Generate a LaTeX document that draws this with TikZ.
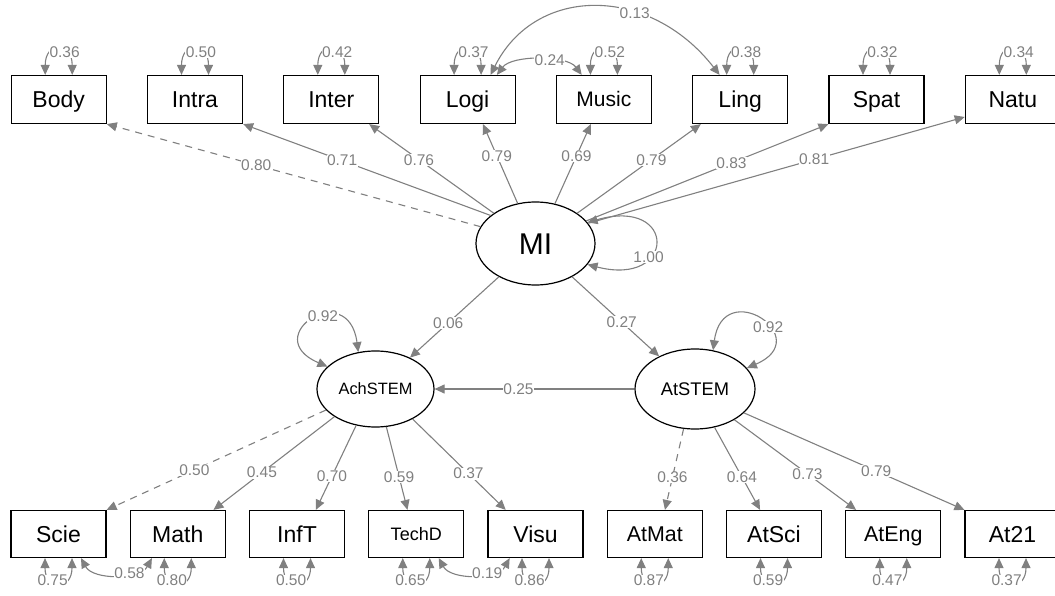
\documentclass[tikz,border=0pt]{standalone}
\usepackage{fontspec}
\setmainfont{Liberation Sans}
\usetikzlibrary{shapes.geometric,arrows.meta,calc}
\definecolor{lgray}{HTML}{808080}
\tikzset{
  obs/.style={draw=black, rectangle, minimum width=95pt, minimum height=48pt, inner sep=0pt, line width=1.2pt, font=\fontsize{23}{23}\selectfont, text height=16.5pt, text depth=0pt},
  obsb/.style={obs, minimum height=47pt},
  lat/.style={draw=black, ellipse, inner sep=0pt, line width=1.2pt, text depth=0pt},
  ptharr/.style={draw=lgray, line width=1.1pt, -{Triangle[length=10pt,width=9pt]}},
  cov/.style={draw=lgray, line width=1.1pt, {Triangle[length=10pt,width=9pt]}-{Triangle[length=10pt,width=9pt]}},
  lab/.style={fill=white, text=lgray, inner sep=0.5pt, font=\fontsize{15.5}{15.5}\selectfont, pos=0.6},
  dsh/.style={dash pattern=on 7pt off 6pt}
}
\begin{document}
\begin{tikzpicture}[x=1pt,y=-1pt]
\useasboundingbox (0,0) rectangle (1055,596);
\clip (0,0) rectangle (1055,596);
% latent
\node[lat, minimum width=119pt, minimum height=83pt, font=\fontsize{30}{30}\selectfont, text height=21.5pt] (MI) at (535.5,243.5) {MI};
\node[lat, minimum width=117pt, minimum height=76pt, font=\fontsize{16.4}{16.4}\selectfont, text height=11.8pt] (ach) at (375.5,389) {AchSTEM};
\node[lat, minimum width=120pt, minimum height=80pt, font=\fontsize{18.3}{18.3}\selectfont, text height=13.1pt] (ats) at (695,389) {AtSTEM};
% top observed
\node[obs] (body) at (58.7,99.5) {Body};
\node[obs] (intra) at (195,99.5) {Intra};
\node[obs] (inter) at (331.3,99.5) {Inter};
\node[obs] (logi) at (467.6,99.5) {Logi};
\node[obs, font=\fontsize{21}{21}\selectfont, text height=15pt] (music) at (603.9,99.5) {Music};
\node[obs] (ling) at (740.2,99.5) {Ling};
\node[obs] (spat) at (876.5,99.5) {Spat};
\node[obs] (natu) at (1012.8,99.5) {Natu};
% bottom observed
\node[obsb] (scie) at (58.5,534) {Scie};
\node[obsb] (math) at (177.75,534) {Math};
\node[obsb] (inft) at (297,534) {InfT};
\node[obsb, font=\fontsize{18}{18}\selectfont, text height=12.9pt] (techd) at (416.25,534) {TechD};
\node[obsb] (visu) at (535.5,534) {Visu};
\node[obsb, font=\fontsize{21.4}{21.4}\selectfont, text height=15.3pt] (atmat) at (654.75,534) {AtMat};
\node[obsb] (atsci) at (774,534) {AtSci};
\node[obsb, font=\fontsize{21.4}{21.4}\selectfont, text height=15.3pt] (ateng) at (893.25,534) {AtEng};
\node[obsb] (at21) at (1012.5,534) {At21};
% MI loadings
\draw[ptharr,dsh] (MI.163) -- node[lab]{0.80} (body.south east);
\draw[ptharr] (MI.148) -- node[lab]{0.71} (intra.south east);
\draw[ptharr] (MI.144) -- node[lab]{0.76} (inter.-33);
\draw[ptharr] (MI.114) -- node[lab]{0.79} (logi.-58);
\draw[ptharr] (MI.64) -- node[lab]{0.69} (music.-118);
\draw[ptharr] (MI.36) -- node[lab]{0.79} (ling.-148);
\draw[ptharr] (MI.24) -- node[lab]{0.83} (spat.south west);
\draw[ptharr] (MI.21) -- node[lab]{0.81} (natu.200);
% structural
\draw[ptharr] (MI) -- node[lab,pos=0.57]{0.06} (ach);
\draw[ptharr] (MI) -- node[lab,pos=0.57]{0.27} (ats);
\draw[ptharr] (ats) -- node[lab,pos=0.58]{0.25} (ach);
% AchSTEM loadings
\draw[ptharr,dsh] (ach.203) -- node[lab]{0.50} (scie.north east);
\draw[ptharr] (ach.214) -- node[lab]{0.45} (math.34.3);
\draw[ptharr] (ach.242) -- node[lab]{0.70} (inft.52.6);
\draw[ptharr] (ach.286) -- node[lab]{0.59} (techd.110);
\draw[ptharr] (ach.321) -- node[lab]{0.37} (visu.141);
% AtSTEM loadings
\draw[ptharr,dsh] (ats.254.7) -- node[lab]{0.36} (atmat.67);
\draw[ptharr] (ats.297.6) -- node[lab]{0.64} (atsci.120.8);
\draw[ptharr] (ats.322.7) -- node[lab]{0.73} (ateng.147);
\draw[ptharr] (ats.334) -- node[lab]{0.79} (at21.north west);
% latent variances
\draw[cov] (MI.22) .. controls +(90,-26) and +(89,23) .. node[lab,pos=0.65]{1.00} (MI.-22);
\draw[cov] (ach.115) .. controls +(-10,-75) and +(-70,-30) .. node[lab,pos=0.4]{0.92} (ach.155);
\draw[cov] (ats.65) .. controls +(10,-75) and +(70,-30) .. node[lab,pos=0.6]{0.92} (ats.22);
% covariances
\draw[cov] (logi.47) .. controls +(45,-90) and +(-70,-90) .. node[lab,pos=0.65]{0.13} (ling.130);
\draw[cov] (logi.40) .. controls +(15,-20) and +(-15,-20) .. node[lab,pos=0.6]{0.24} (music.132.5);
\draw[cov] (scie.-47.5) .. controls +(12,22) and +(-12,22) .. node[lab,pos=0.65]{0.58} (math.-137.3);
\draw[cov] (techd.-47.5) .. controls +(12,22) and +(-12,22) .. node[lab,pos=0.65]{0.19} (visu.-137.3);
% residual variances, top
\foreach \n/\v in {body/0.36, intra/0.50, inter/0.42, logi/0.37, music/0.52, ling/0.38, spat/0.32, natu/0.34}{
  \draw[cov] ([xshift=-13.5pt]\n.north) .. controls +(0,-34) and +(0,-34) .. node[lab,pos=0.65]{\v} ([xshift=13.5pt]\n.north);
}
% residual variances, bottom
\foreach \n/\v in {scie/0.75, math/0.80, inft/0.50, techd/0.65, visu/0.86, atmat/0.87, atsci/0.59, ateng/0.47, at21/0.37}{
  \draw[cov] ([xshift=13.5pt]\n.south) .. controls +(0,33) and +(0,33) .. node[lab,pos=0.65]{\v} ([xshift=-13.5pt]\n.south);
}
\end{tikzpicture}
\end{document}
